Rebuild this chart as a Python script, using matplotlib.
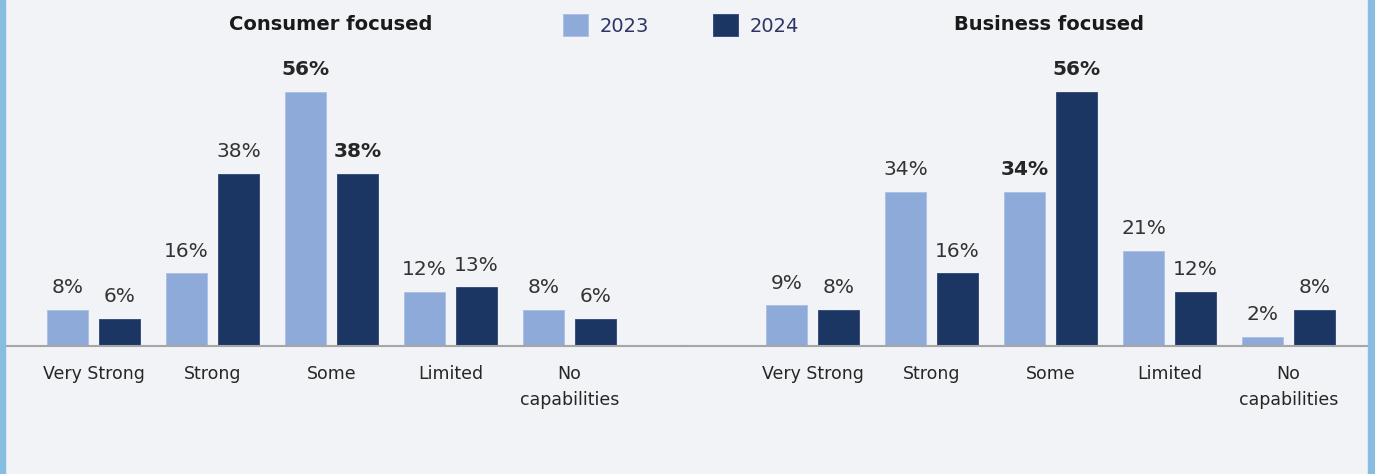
import matplotlib.pyplot as plt
from matplotlib.patches import Rectangle
import numpy as np

# categories and values (percent)
categories = ["Very Strong", "Strong", "Some", "Limited", "No\ncapabilities"]
consumer_2023 = [8, 16, 56, 12, 8]
consumer_2024 = [6, 38, 38, 13, 6]
business_2023 = [9, 34, 34, 21, 2]
business_2024 = [8, 16, 56, 12, 8]
years = ["2023", "2024"]
panel_titles = ["Consumer focused", "Business focused"]

# bold labels (the "Some" group in both panels)
bold_group = 2

color_23 = "#8eaad9"
color_24 = "#1c3664"
bg = "#f1f3f6"

plt.rcParams['font.family'] = ['DejaVu Sans']

W, H = 1375, 474
fig = plt.figure(figsize=(W / 100, H / 100), dpi=100, facecolor=bg)

# blue strips on both edges
fig.patches.append(Rectangle((0, 0), 5 / W, 1, transform=fig.transFigure,
                             color="#86bde0", zorder=0))
fig.patches.append(Rectangle((1368 / W, 0), 7 / W, 1, transform=fig.transFigure,
                             color="#86bde0", zorder=0))

px_per_unit = 119.0
px_per_pct = 4.536
base_px = 346
top_px = 40
ax_bottom = (H - base_px) / H
ax_height = (base_px - top_px) / H

# left and right axes (pixel ranges) and pixel position of group 0 centre
panels = [
    (5, 687, 93.5, consumer_2023, consumer_2024),
    (687, 1368, 812.5, business_2023, business_2024),
]

offset = 26 / px_per_unit
width = 41 / px_per_unit
title_x = [330.5, 1049.5]

x = np.arange(len(categories))
handles = None
for i, (p0, p1, c0, v23, v24) in enumerate(panels):
    ax = fig.add_axes([p0 / W, ax_bottom, (p1 - p0) / W, ax_height])
    ax.set_facecolor("none")
    ax.set_xlim((p0 - c0) / px_per_unit, (p1 - c0) / px_per_unit)
    ax.set_ylim(0, (base_px - top_px) / px_per_pct)
    b1 = ax.bar(x - offset, v23, width, color=color_23, edgecolor="#a9bfe3",
                linewidth=0.6, label=years[0])
    b2 = ax.bar(x + offset, v24, width, color=color_24, edgecolor="#2c4675",
                linewidth=0.6, label=years[1])
    handles = [b1, b2]
    for bars in (b1, b2):
        for j, rect in enumerate(bars):
            val = rect.get_height()
            bold = j == bold_group
            ax.annotate(f"{val:.0f}%", (rect.get_x() + rect.get_width() / 2, val),
                        xytext=(0, 9), textcoords="offset points",
                        ha="center", va="bottom", fontsize=14.5,
                        fontweight="bold" if bold else "normal",
                        color="#262626" if bold else "#333333")
    ax.set_xticks(x)
    ax.set_xticklabels(categories, fontsize=12.5, color="#262626", linespacing=1.55)
    ax.tick_params(axis="x", length=0, pad=14)
    ax.set_yticks([])
    for s in ["left", "right", "top"]:
        ax.spines[s].set_visible(False)
    ax.spines["bottom"].set_color("#a6a6a6")
    ax.spines["bottom"].set_linewidth(1.5)
    fig.text(title_x[i] / W, 1 - 25 / H, panel_titles[i], ha="center", va="center",
             fontsize=14, fontweight="bold", color="#1a1a1a")

leg = fig.legend(handles, years, loc="center", bbox_to_anchor=(681 / W, 1 - 25 / H),
                 ncol=2, frameon=False, fontsize=14, handlelength=1.3, handleheight=1.3,
                 columnspacing=3.3, handletextpad=0.6)
for t in leg.get_texts():
    t.set_color("#2e3566")

fig.savefig("out.png", dpi=100, facecolor=bg)
